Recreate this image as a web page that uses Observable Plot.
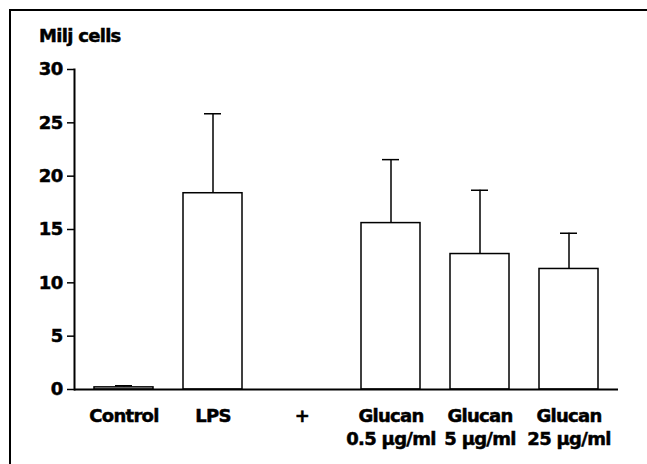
<!DOCTYPE html>
<html>
<head>
<meta charset="utf-8">
<script src="https://cdn.jsdelivr.net/npm/d3@7"></script>
<script src="https://cdn.jsdelivr.net/npm/@observablehq/plot@0.6"></script>
<style>
  html, body { margin: 0; padding: 0; background: #fff; }
  #wrap { position: relative; width: 647px; height: 464px; overflow: hidden; }
  #border { position: absolute; left: 9px; top: 9px; width: 660px; height: 470px;
            border-left: 2px solid #000; border-top: 2px solid #000; }
  #title { position: absolute; left: 39px; top: 27px; font-family: "DejaVu Sans", sans-serif;
           font-weight: bold; font-size: 18px; line-height: 18px; letter-spacing: -0.7px; color: #000;
           -webkit-text-stroke: 0.5px #000; }
  #chart { position: absolute; left: 0; top: 0; }
  #chart svg text { stroke: #000; stroke-width: 0.5px; }
</style>
</head>
<body>
<div id="wrap">
  <div id="border"></div>
  <div id="chart"></div>
  <div id="title">Milj cells</div>
</div>
<script>
const categories = ["Control", "LPS", "+", "Glucan 0.5", "Glucan 5", "Glucan 25"];
const labels = ["Control", "LPS", "+", "Glucan\n0.5 µg/ml", "Glucan\n5 µg/ml", "Glucan\n25 µg/ml"];
const means = [0.2, 18.4, null, 15.6, 12.7, 11.3];
const errors = [0.15, 7.45, null, 5.95, 5.98, 3.35];
const yTicks = [0, 5, 10, 15, 20, 25, 30];

const rows = categories.map((c, i) => ({cat: c, label: labels[i], mean: means[i], err: errors[i]}));
const bars = rows.filter(d => d.mean != null);

const font = {fontFamily: "DejaVu Sans, sans-serif", fontSize: "18px", fontWeight: "bold", letterSpacing: "-0.7px"};

const chart = Plot.plot({
  width: 647,
  height: 464,
  marginTop: 69,
  marginBottom: 75,
  marginLeft: 74,
  marginRight: 29,
  style: {...font, background: "transparent", color: "#000", overflow: "visible"},
  x: {domain: categories, paddingInner: 0.34, paddingOuter: 0.22, axis: null},
  y: {domain: [0, 30], axis: null},
  marks: [
    Plot.axisY({ticks: yTicks, tickSize: 7, tickPadding: 5, strokeWidth: 1.5, label: null,
      fontSize: 18, fontWeight: "bold"}),
    Plot.frame({anchor: "left", stroke: "#000", strokeWidth: 2}),
    Plot.ruleX(bars, {x: "cat", y1: "mean", y2: d => d.mean + d.err, stroke: "#000", strokeWidth: 1.5}),
    Plot.tickY(bars, {x: "cat", y: d => d.mean + d.err, stroke: "#000", strokeWidth: 1.5, insetLeft: 21, insetRight: 21}),
    Plot.barY(bars, {x: "cat", y: "mean", fill: "#fff", stroke: "#000", strokeWidth: 1.5}),
    Plot.ruleY([0], {stroke: "#000", strokeWidth: 2}),
    Plot.text(rows, {x: "cat", text: "label", frameAnchor: "bottom", lineAnchor: "top", dy: 16,
      lineHeight: 1.28, fill: "#000", fontSize: 18, fontWeight: "bold"})
  ]
});
document.getElementById("chart").appendChild(chart);
</script>
</body>
</html>
